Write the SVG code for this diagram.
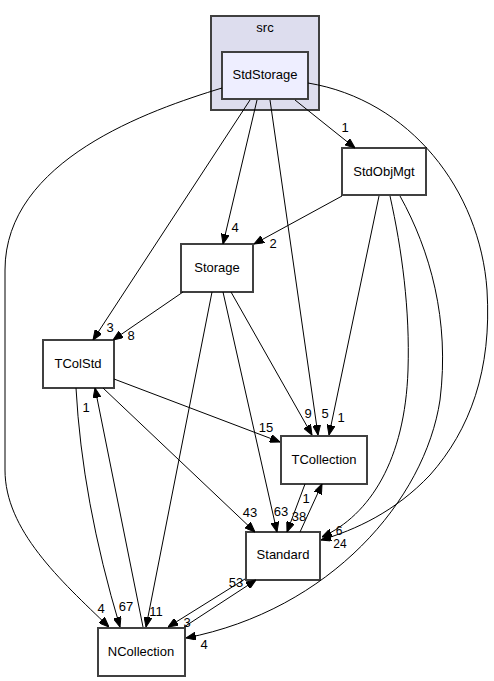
<svg xmlns="http://www.w3.org/2000/svg" width="494" height="681" viewBox="0 0 494 681">
<defs>
<style>
.node rect{fill:#ffffff;stroke:#404040;stroke-width:2}
.cl{fill:#ddddee;stroke:#404040;stroke-width:2}
text{font-family:"Liberation Sans",Arial,sans-serif;font-size:13px;fill:#000}
.n{text-anchor:middle}
.lbl{text-anchor:middle}
.sm{font-size:12px}
.edges path{fill:none;stroke:#000;stroke-width:1;marker-end:url(#ah)}
</style>
<marker id="ah" viewBox="0 0 10 8" refX="10" refY="4" markerWidth="10" markerHeight="8" markerUnits="userSpaceOnUse" orient="auto">
<path d="M0,0 L10,4 L0,8 z" fill="#000" stroke="#000" stroke-width="1"/>
</marker>
</defs>
<rect width="494" height="681" fill="#ffffff"/>
<g id="cluster_src">
<rect class="cl" x="211" y="16" width="108" height="94"/>
<text class="n" x="265" y="32">src</text>
</g>
<g id="node_StdStorage" class="node">
<rect x="222" y="52" width="86" height="47" style="fill:#eeeeff"/>
<text class="n" x="265" y="79">StdStorage</text>
</g>
<g id="node_StdObjMgt" class="node">
<rect x="342" y="148" width="84" height="47"/>
<text class="n" x="384" y="176">StdObjMgt</text>
</g>
<g id="node_Storage" class="node">
<rect x="181" y="244" width="72" height="48"/>
<text class="n" x="217" y="272">Storage</text>
</g>
<g id="node_TColStd" class="node">
<rect x="43" y="340" width="71" height="48"/>
<text class="n" x="78" y="368">TColStd</text>
</g>
<g id="node_TCollection" class="node">
<rect x="281" y="436" width="86" height="48"/>
<text class="n" x="324" y="464">TCollection</text>
</g>
<g id="node_Standard" class="node">
<rect x="246" y="532" width="74" height="48"/>
<text class="n" x="283" y="559">Standard</text>
</g>
<g id="node_NCollection" class="node">
<rect x="98" y="628" width="87" height="48"/>
<text class="n" x="141" y="656">NCollection</text>
</g>
<g id="edge_labels">
<text class="lbl" x="345" y="132">1</text>
<text class="lbl" x="235" y="232">4</text>
<text class="lbl" x="273" y="248">2</text>
<text class="lbl" x="110" y="332">3</text>
<text class="lbl" x="131" y="340">8</text>
<text class="lbl" x="308" y="418">9</text>
<text class="lbl" x="325" y="418">5</text>
<text class="lbl" x="341" y="422">1</text>
<text class="lbl" x="266" y="432">15</text>
<text class="lbl" x="86" y="412">1</text>
<text class="lbl" x="250" y="517">43</text>
<text class="lbl" x="281" y="516">63</text>
<text class="lbl" x="299" y="521">38</text>
<text class="lbl" x="306" y="503">1</text>
<text class="lbl sm" x="339" y="535">6</text>
<text class="lbl sm" x="340" y="548">24</text>
<text class="lbl" x="236" y="587">53</text>
<text class="lbl" x="101" y="613">4</text>
<text class="lbl" x="126" y="611">67</text>
<text class="lbl" x="156" y="616">11</text>
<text class="lbl" x="187" y="627">3</text>
<text class="lbl" x="204" y="649">4</text>
</g>
<g id="connectors" class="edges">
<path d="M295,100 L355,148"/>
<path d="M257,100 L223,244"/>
<path d="M250,100 L93,340"/>
<path d="M270,100 L318,435"/>
<path d="M222,88 C150,110 5,160 5,270 L5,470 C5,530 60,580 109,627"/>
<path d="M308,83 C410,100 480,190 487,290 C492,370 470,430 430,475 C395,512 355,530 321,540"/>
<path d="M342,196 L254,244"/>
<path d="M379,196 L329,435"/>
<path d="M390,196 C402,250 410,310 408,370 C405,460 370,515 322,537"/>
<path d="M400,196 C430,250 450,320 440,400 C425,500 330,610 186,638"/>
<path d="M183,292 L113,340"/>
<path d="M231,292 L312,435"/>
<path d="M223,292 L277,532"/>
<path d="M212,292 L146,627"/>
<path d="M114,379 L280,442"/>
<path d="M103,388 L255,532"/>
<path d="M76,388 Q82,500 120,627"/>
<path d="M143,627 L95,388"/>
<path d="M305,484 L287,532"/>
<path d="M300,532 L322,484"/>
<path d="M245,579 L168,627"/>
<path d="M184,627 L256,580"/>
</g>
</svg>
